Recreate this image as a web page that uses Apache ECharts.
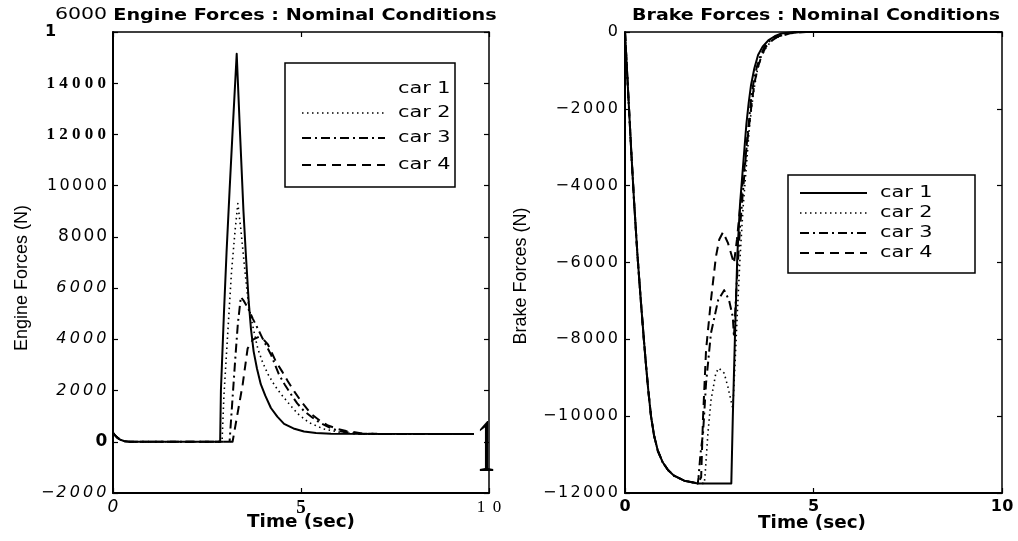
<!DOCTYPE html>
<html><head><meta charset="utf-8">
<script src="https://cdn.jsdelivr.net/npm/echarts/dist/echarts.min.js"></script>
<style>html,body{margin:0;padding:0;background:#fff}#c{width:1018px;height:541px}</style>
</head><body><div id="c"></div>
<script>
// ---------------- DATA ----------------
const carNames = ['car 1', 'car 2', 'car 3', 'car 4'];
const timeTicks = [0, 5, 10];
const engineTicks = [-2000, 0, 2000, 4000, 6000, 8000, 10000, 12000, 14000, 16000];
const brakeTicks = [-12000, -10000, -8000, -6000, -4000, -2000, 0];

// Engine forces [time s, force N]
const engineStart = [[0,350],[0.05,260],[0.1,180],[0.18,90],[0.3,25],[0.45,0]];
const engineCar1 = [...engineStart,[2.85,0],[2.87,2000],[2.95,5000],[3.02,7400],[3.1,9800],[3.18,12100],[3.29,15150],[3.38,12000],[3.47,9000],[3.53,7400],[3.61,5460],[3.67,4400],[3.74,3530],[3.83,2850],[3.93,2250],[4.05,1800],[4.2,1320],[4.37,980],[4.55,700],[4.8,520],[5.08,400],[5.4,340],[5.8,310],[9.6,300]];
const engineCar2 = [...engineStart,[2.9,0],[2.95,1800],[3.05,4200],[3.15,6600],[3.25,8300],[3.32,9300],[3.4,8300],[3.5,6800],[3.6,5400],[3.72,4500],[3.85,3640],[3.98,3100],[4.12,2640],[4.3,2200],[4.47,1860],[4.7,1450],[4.92,1085],[5.21,750],[5.6,500],[6.1,350],[6.6,300],[9.6,300]];
const engineCar3 = [...engineStart,[3.1,0],[3.17,1500],[3.25,3200],[3.32,4600],[3.4,5650],[3.48,5500],[3.6,5190],[3.72,4800],[3.85,4420],[3.98,4030],[4.2,3410],[4.41,2640],[4.57,2230],[4.73,1860],[4.9,1500],[5.08,1200],[5.3,950],[5.5,750],[5.75,560],[6.0,420],[6.5,310],[9.6,300]];
const engineCar4 = [...engineStart,[3.18,0],[3.3,1000],[3.45,2250],[3.58,3640],[3.72,3990],[3.88,4100],[4.0,4000],[4.12,3800],[4.33,3140],[4.5,2740],[4.65,2360],[4.82,1970],[5.0,1590],[5.27,1085],[5.5,830],[5.7,650],[5.95,510],[6.2,420],[6.7,310],[9.6,300]];

// Brake forces [time s, force N]
const brakeStart = [[0,0],[0.08,-1500],[0.16,-3000],[0.24,-4400],[0.33,-5800],[0.42,-7000],[0.5,-8000],[0.56,-8700],[0.62,-9350],[0.69,-10000],[0.77,-10500],[0.87,-10900],[1.0,-11200],[1.14,-11400],[1.3,-11550],[1.57,-11680],[1.93,-11750]];
const brakeCar1 = [...brakeStart,[2.82,-11750],[2.86,-10000],[2.92,-7800],[2.98,-5800],[3.05,-4500],[3.13,-3500],[3.22,-2400],[3.28,-1850],[3.34,-1400],[3.43,-950],[3.53,-600],[3.65,-380],[3.8,-220],[3.97,-110],[4.15,-40],[4.5,0],[10,0]];
const brakeCar2 = [...brakeStart,[2.1,-11750],[2.12,-11590],[2.2,-10440],[2.28,-9590],[2.41,-8880],[2.49,-8750],[2.63,-8880],[2.73,-9240],[2.81,-9590],[2.86,-9800],[2.92,-8600],[2.98,-7300],[3.05,-5900],[3.13,-4600],[3.21,-3600],[3.3,-2500],[3.36,-1950],[3.42,-1500],[3.51,-1000],[3.61,-650],[3.74,-410],[3.88,-240],[4.05,-120],[4.25,-50],[4.6,0],[10,0]];
const brakeCar3 = [...brakeStart,[1.95,-11600],[2.0,-11000],[2.07,-10440],[2.15,-9140],[2.28,-7840],[2.47,-6980],[2.63,-6720],[2.76,-6980],[2.86,-7420],[2.89,-7940],[2.97,-6400],[3.05,-5100],[3.15,-3900],[3.24,-2800],[3.35,-1700],[3.42,-1250],[3.5,-900],[3.6,-600],[3.7,-380],[3.83,-240],[3.98,-140],[4.35,-30],[4.7,0],[10,0]];
const brakeCar4 = [...brakeStart,[1.97,-11750],[2.02,-11590],[2.07,-10030],[2.15,-8280],[2.28,-6980],[2.41,-5860],[2.5,-5400],[2.6,-5210],[2.73,-5490],[2.89,-6020],[2.97,-5400],[3.06,-4500],[3.16,-3600],[3.26,-2700],[3.38,-1700],[3.45,-1250],[3.53,-900],[3.63,-600],[3.74,-380],[3.87,-240],[4.02,-140],[4.4,-30],[4.8,0],[10,0]];

// ---------------- STYLES ----------------
const lineTypes = [
  {type:'solid', width:2},
  {type:[1.5,3.5], width:1.6},
  {type:[9,4,2,4], width:2},
  {type:[9,6], width:2}
];
const SANS = '"DejaVu Sans", "Liberation Sans", sans-serif';
const SERIF = '"Liberation Serif", "DejaVu Serif", serif';
const rich = {
  it:  {fontFamily:SANS, fontStyle:'italic', fontSize:16, width:13.3, align:'center', color:'#000'},
  itm: {fontFamily:SANS, fontStyle:'italic', fontSize:16, width:14, align:'center', color:'#000'},
  b0:  {fontFamily:SANS, fontWeight:'bold', fontSize:17, width:13, align:'center', color:'#000'},
  sl:  {fontFamily:SANS, fontSize:17, width:12.75, align:'center', color:'#000'},
  sn:  {fontFamily:SANS, fontSize:16, width:12.4, align:'center', color:'#000'},
  sb:  {fontFamily:SERIF, fontWeight:'bold', fontSize:17, width:12.7, align:'center', color:'#000'},
  top: {fontFamily:SANS, fontWeight:'bold', fontSize:16, width:12.7, align:'center', color:'#000'},
  gap: {width:51, align:'center'},
  r:   {fontFamily:SANS, fontSize:16, width:12.4, align:'center', color:'#000'},
  rm:  {fontFamily:SANS, fontSize:16, width:14.5, align:'center', color:'#000'},
  xi:  {fontFamily:SANS, fontStyle:'italic', fontSize:17, align:'center', color:'#000'},
  xs:  {fontFamily:SERIF, fontWeight:'bold', fontSize:19, align:'center', color:'#000'},
  xr:  {fontFamily:SERIF, fontSize:17, width:16, align:'center', color:'#000'},
  xb:  {fontFamily:SANS, fontWeight:'bold', fontSize:16, width:11.5, align:'center', color:'#000'}
};
function numText(v){ return (v < 0 ? '\u2212' : '') + String(Math.abs(v)); }
function spaced(str, st, mst){ return [...str].map(c => '{' + (c === '\u2212' ? mst : st) + '|' + c + '}').join(''); }
function engineStyle(v){ return v >= 12000 ? 'sb' : v === 10000 ? 'sn' : v === 8000 ? 'sl' : v === 0 ? 'b0' : 'it'; }

const tickStyle = {show:true, inside:true, length:5, lineStyle:{color:'#000', width:1.2}};
function baseAxis(extra){
  return Object.assign({
    type:'value', splitLine:{show:false},
    axisLine:{show:true, onZero:false, lineStyle:{color:'#000', width:2}},
    axisTick:tickStyle
  }, extra);
}

const leftX = baseAxis({gridIndex:0, min:0, max:10, interval:5, position:'bottom',
  axisLabel:{margin:6, rich, hideOverlap:false, showMinLabel:true, showMaxLabel:true,
    formatter: v => v === timeTicks[0] ? '{xi|0}' : v === timeTicks[1] ? '{xs|5}' : spaced(String(v), 'xr', 'xr')}});
const leftXTop = baseAxis({gridIndex:0, min:0, max:10, interval:5, position:'top', axisLabel:{show:false},
  axisLine:{show:true, onZero:false, lineStyle:{color:'#000', width:1.5}}});
const leftY = baseAxis({gridIndex:0, min:engineTicks[0], max:engineTicks[engineTicks.length-1], interval:2000, position:'left',
  axisLabel:{margin:5, rich, hideOverlap:false, showMinLabel:true, showMaxLabel:true,
    formatter: v => v === 16000 ? '{top|1}{gap| }' : spaced(numText(v), engineStyle(v), 'itm')}});
const leftYRight = baseAxis({gridIndex:0, min:engineTicks[0], max:engineTicks[engineTicks.length-1], interval:2000, position:'right',
  axisLabel:{show:false}, axisLine:{show:true, onZero:false, lineStyle:{color:'#000', width:1.5}}});

const rightX = baseAxis({gridIndex:1, min:0, max:10, interval:5, position:'bottom',
  axisLabel:{margin:6, rich, hideOverlap:false, showMinLabel:true, showMaxLabel:true,
    formatter: v => spaced(String(v), 'xb', 'xb')}});
const rightXTop = baseAxis({gridIndex:1, min:0, max:10, interval:5, position:'top', axisLabel:{show:false},
  axisLine:{show:true, onZero:false, lineStyle:{color:'#000', width:1.5}}});
const rightY = baseAxis({gridIndex:1, min:brakeTicks[0], max:brakeTicks[brakeTicks.length-1], interval:2000, position:'left',
  axisLabel:{margin:6, rich, hideOverlap:false, showMinLabel:true, showMaxLabel:true,
    formatter: v => spaced(numText(v), 'r', 'rm')}});
const rightYRight = baseAxis({gridIndex:1, min:brakeTicks[0], max:brakeTicks[brakeTicks.length-1], interval:2000, position:'right',
  axisLabel:{show:false}, axisLine:{show:true, onZero:false, lineStyle:{color:'#000', width:1.5}}});

const engineData = [engineCar1, engineCar2, engineCar3, engineCar4];
const brakeData = [brakeCar1, brakeCar2, brakeCar3, brakeCar4];
const series = [];
function mk(d, i, xi, yi){
  return {name: carNames[i], type:'line', xAxisIndex:xi, yAxisIndex:yi, data:d, symbol:'none', showSymbol:false,
    smooth:false,
    lineStyle:{color:'#000', width:lineTypes[i].width, type:lineTypes[i].type, join:'round'}, z: 10 - i};
}
engineData.forEach((d, i) => series.push(mk(d, i, 0, 0)));
brakeData.forEach((d, i) => series.push(mk(d, i, 2, 2)));

// ---------------- GRAPHICS (titles, axis names, legends) ----------------
function txt(x, y, text, font, opts){
  opts = opts || {};
  return {type:'text', x, y, rotation: opts.rotation || 0, scaleX: opts.scaleX || 1, scaleY: opts.scaleY || 1, z:100,
    style:{text, font, fill:'#000', textAlign: opts.align || 'center', textVerticalAlign:'middle', align: opts.align || 'center', verticalAlign:'middle'}};
}
function legend(box, lineX1, lineX2, textX, rows, showFirst){
  const els = [{type:'rect', z:90, shape:box, style:{fill:'#fff', stroke:'#000', lineWidth:1.5}}];
  rows.forEach((y, i) => {
    if (i > 0 || showFirst) {
      els.push({type:'line', z:95, shape:{x1:lineX1, y1:y, x2:lineX2, y2:y},
        style:{stroke:'#000', lineWidth:lineTypes[i].width, lineDash: lineTypes[i].type === 'solid' ? null : lineTypes[i].type}});
    }
    els.push(txt(textX, y, carNames[i], '16px ' + SANS, {align:'left', scaleX:1.3}));
  });
  return els;
}

const graphic = [
  txt(81, 15, '6000', '16px ' + SANS, {scaleX:1.28}),
  txt(305, 16, 'Engine Forces : Nominal Conditions', 'bold 16px ' + SANS, {scaleX:1.2}),
  txt(816, 16, 'Brake Forces : Nominal Conditions', 'bold 16px ' + SANS, {scaleX:1.187}),
  txt(22, 278, 'Engine Forces (N)', '18px "Liberation Sans", Arial, sans-serif', {rotation:Math.PI/2}),
  txt(521, 276, 'Brake Forces (N)', '18px "Liberation Sans", Arial, sans-serif', {rotation:Math.PI/2}),
  txt(301, 523, 'Time (sec)', 'bold 17px ' + SANS, {scaleX:1.08}),
  txt(812, 524, 'Time (sec)', 'bold 17px ' + SANS, {scaleX:1.08}),
  txt(486, 451, '1', '76px ' + SERIF, {scaleX:0.5}),
  ...legend({x:285, y:63, width:170, height:124}, 302, 385, 398, [89, 113, 138, 165], false),
  ...legend({x:788, y:175, width:187, height:98}, 800, 867, 880, [193, 213, 233, 253], true)
];

const chart = echarts.init(document.getElementById('c'), null, {renderer:'canvas'});
chart.setOption({
  animation:false,
  backgroundColor:'#fff',
  grid:[
    {left:113, right:529, top:32, bottom:48, containLabel:false, outerBoundsMode:'none'},
    {left:625, right:16, top:32, bottom:48, containLabel:false, outerBoundsMode:'none'}
  ],
  xAxis:[leftX, leftXTop, rightX, rightXTop],
  yAxis:[leftY, leftYRight, rightY, rightYRight],
  series,
  graphic
});
</script>
</body></html>
